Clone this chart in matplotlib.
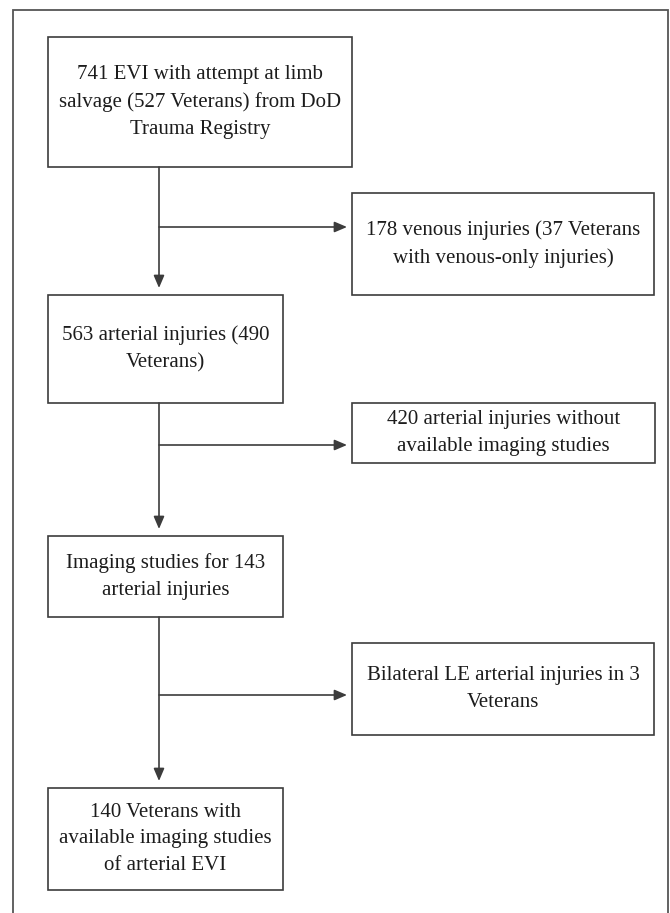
"""Flow diagram of EVI cases selected for the imaging study."""
import matplotlib.pyplot as plt
from matplotlib.patches import Rectangle

# box texts, top to bottom
main_labels = [
    "741 EVI with attempt at limb\nsalvage (527 Veterans) from DoD\nTrauma Registry",
    "563 arterial injuries (490\nVeterans)",
    "Imaging studies for 143\narterial injuries",
    "140 Veterans with\navailable imaging studies\nof arterial EVI",
]
excluded_labels = [
    "178 venous injuries (37 Veterans\nwith venous-only injuries)",
    "420 arterial injuries without\navailable imaging studies",
    "Bilateral LE arterial injuries in 3\nVeterans",
]

# layout in pixels (x0, y0, x1, y1), y going down
_MAIN_BOXES = [(48, 37, 352, 167), (48, 295, 283, 403),
               (48, 536, 283, 617), (48, 788, 283, 890)]
_SIDE_BOXES = [(352, 193, 654, 295), (352, 403, 655, 463),
               (352, 643, 654, 735)]
_BRANCH_Y = [227, 445, 695]
_SPINE_X = 159
_GAP = 7

_LINE = '#3c3c3c'
_TEXT = dict(family=['Liberation Serif', 'DejaVu Serif'], fontsize=15,
             color='#1c1c1c', ha='center', va='center', linespacing=1.55)
_ARROW = dict(arrowstyle='-|>,head_length=0.75,head_width=0.32',
              color=_LINE, lw=1.2, shrinkA=0, shrinkB=0)

W, H = 670, 913
fig = plt.figure(figsize=(W / 100, H / 100), dpi=100)
ax = fig.add_axes([0, 0, 1, 1])
ax.set_xlim(0, W)
ax.set_ylim(H, 0)
ax.axis('off')

# outer frame, open at the bottom
ax.plot([13, 13, 668, 668], [H + 5, 10, 10, H + 5], color='#555555', lw=1.3,
        solid_joinstyle='miter')


def draw_box(ax, box, text):
    x0, y0, x1, y1 = box
    ax.add_patch(Rectangle((x0, y0), x1 - x0, y1 - y0, fill=False,
                           edgecolor=_LINE, lw=1.2))
    ax.text((x0 + x1) / 2, (y0 + y1) / 2, text, **_TEXT)


for box, label in zip(_MAIN_BOXES, main_labels):
    draw_box(ax, box, label)
for box, label in zip(_SIDE_BOXES, excluded_labels):
    draw_box(ax, box, label)

# down arrows along the spine and side arrows to the excluded boxes
for upper, lower, by, side in zip(_MAIN_BOXES[:-1], _MAIN_BOXES[1:],
                                  _BRANCH_Y, _SIDE_BOXES):
    ax.annotate('', xy=(_SPINE_X, lower[1] - _GAP), xytext=(_SPINE_X, upper[3]),
                arrowprops=_ARROW)
    ax.annotate('', xy=(side[0] - 5, by), xytext=(_SPINE_X, by),
                arrowprops=_ARROW)

fig.savefig('out.png', dpi=100, facecolor='white')
